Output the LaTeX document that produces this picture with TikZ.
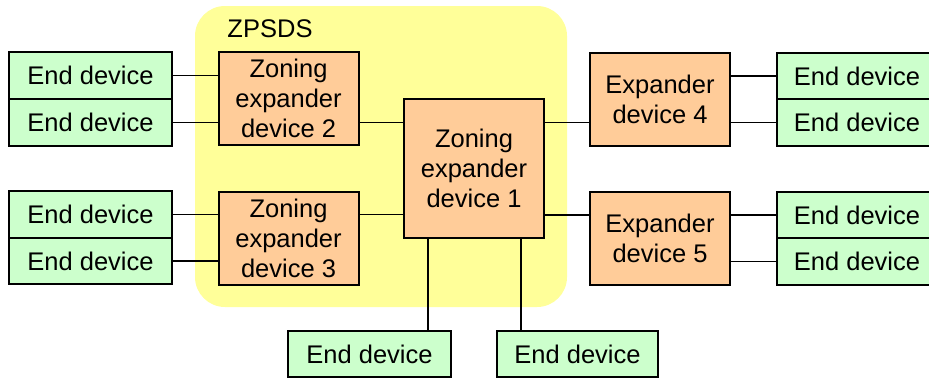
\documentclass[tikz,border=0pt]{standalone}
\usepackage{fontspec}
\setmainfont{Liberation Sans}
\definecolor{enddev}{HTML}{CCFFCC}
\definecolor{expdev}{HTML}{FFCC99}
\definecolor{zone}{HTML}{FFFF99}
\tikzset{
  box/.style={draw=black, line width=1pt, inner sep=0pt, outer sep=0pt,
    align=center, font=\fontsize{12.75}{15}\selectfont},
  endbox/.style={box, fill=enddev, minimum width=81.5pt, minimum height=23.3pt},
  expbox/.style={box, fill=expdev, minimum width=70pt, minimum height=46.5pt},
  link/.style={draw=black, line width=0.8pt},
}
\begin{document}
\begin{tikzpicture}[x=0.5pt, y=-0.5pt]
  \useasboundingbox (0,0) rectangle (929,381);
  % zoned portion of the service delivery subsystem
  \fill[zone, rounded corners=15pt] (195,6) rectangle (567,307);
  \node[font=\fontsize{12.75}{15}\selectfont] (zlabel) at (270,28.5) {ZPSDS};

  % expander devices
  \node[expbox] (ze2) at (288.5,98.5) {Zoning\\expander\\device 2};
  \node[expbox] (ze3) at (288.5,238) {Zoning\\expander\\device 3};
  \node[expbox, minimum height=69.5pt] (ze1) at (474,168.5) {Zoning\\expander\\device 1};
  \node[expbox] (e4) at (660,99.5) {Expander\\device 4};
  \node[expbox] (e5) at (660,238.5) {Expander\\device 5};

  % end devices
  \node[endbox] (l1) at (90.5,75.5) {End device};
  \node[endbox] (l2) at (90.5,122.5) {End device};
  \node[endbox] (l3) at (90.5,214.5) {End device};
  \node[endbox] (l4) at (90.5,261) {End device};
  \node[endbox, minimum width=80pt] (r1) at (857,76) {End device};
  \node[endbox, minimum width=80pt] (r2) at (857,122.5) {End device};
  \node[endbox, minimum width=80pt] (r3) at (857,215) {End device};
  \node[endbox, minimum width=80pt] (r4) at (857,261.5) {End device};
  \node[endbox, minimum height=23pt] (b1) at (369.5,354) {End device};
  \node[endbox, minimum width=80.5pt, minimum height=23pt] (b2) at (577.5,354) {End device};

  % connectors
  \draw[link] (l1.east) -- (l1.east -| ze2.west);
  \draw[link] (l2.east) -- (l2.east -| ze2.west);
  \draw[link] (l3.east) -- (l3.east -| ze3.west);
  \draw[link] (l4.east) -- (l4.east -| ze3.west);
  \draw[link] (ze2.east |- l2.east) -- (ze1.west |- l2.east);
  \draw[link] (ze3.east |- l3.east) -- (ze1.west |- l3.east);
  \draw[link] (ze1.east |- r2.west) -- (e4.west |- r2.west);
  \draw[link] (ze1.east |- r3.west) -- (e5.west |- r3.west);
  \draw[link] (e4.east |- r1.west) -- (r1.west);
  \draw[link] (e4.east |- r2.west) -- (r2.west);
  \draw[link] (e5.east |- r3.west) -- (r3.west);
  \draw[link] (e5.east |- r4.west) -- (r4.west);
  \draw[link] (ze1.south -| {(428,0)}) -- (b1.north -| {(428,0)});
  \draw[link] (ze1.south -| {(521,0)}) -- (b2.north -| {(521,0)});
\end{tikzpicture}
\end{document}
